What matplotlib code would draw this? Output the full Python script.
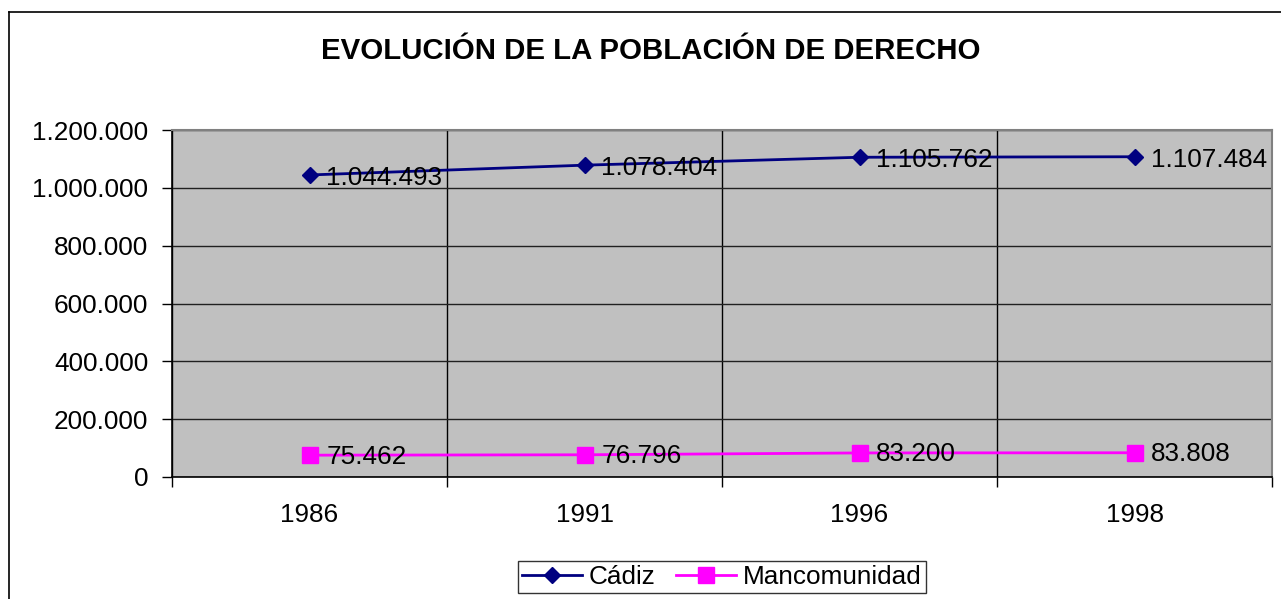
import matplotlib
matplotlib.use('Agg')
import matplotlib.pyplot as plt
from matplotlib.lines import Line2D
from matplotlib.ticker import FuncFormatter, FixedLocator

plt.rcParams['font.family'] = ['Liberation Sans', 'DejaVu Sans']

# data
years = ['1986', '1991', '1996', '1998']
cadiz = [1044493, 1078404, 1105762, 1107484]
mancomunidad = [75462, 76796, 83200, 83808]
y_ticks = [0, 200000, 400000, 600000, 800000, 1000000, 1200000]

FS = 18.8


def fmt_es(v, pos=None):
    return f'{int(v):,}'.replace(',', '.')


fig = plt.figure(figsize=(12.81, 5.99), dpi=100)
ax = fig.add_axes([172 / 1281, 1 - 477 / 599, 1100 / 1281, 347 / 599])
ax.set_facecolor('#c0c0c0')

x = list(range(len(years)))
ax.plot(x, cadiz, color='#000080', lw=2, marker='D', ms=8,
        mfc='#000080', mec='#000080', label='Cádiz', zorder=3)
ax.plot(x, mancomunidad, color='#ff00ff', lw=2, marker='s', ms=11,
        mfc='#ff00ff', mec='#ff00ff', label='Mancomunidad', zorder=3)

for xi, v in zip(x, cadiz):
    ax.annotate(fmt_es(v), (xi, v), xytext=(12, -2), textcoords='offset points',
                va='center', ha='left', fontsize=FS, color='black', zorder=4)
for xi, v in zip(x, mancomunidad):
    ax.annotate(fmt_es(v), (xi, v), xytext=(12, -1), textcoords='offset points',
                va='center', ha='left', fontsize=FS, color='black', zorder=4)

ax.set_xlim(-0.5, 3.5)
ax.set_ylim(0, 1200000)
ax.set_yticks(y_ticks)
ax.yaxis.set_major_formatter(FuncFormatter(fmt_es))
ax.set_xticks(x)
ax.set_xticklabels(years)
ax.xaxis.set_minor_locator(FixedLocator([-0.5, 0.5, 1.5, 2.5, 3.5]))
ax.tick_params(axis='x', which='major', length=0, pad=19, labelsize=FS)
ax.tick_params(axis='x', which='minor', length=7, width=1, color='black')
ax.tick_params(axis='y', length=7, width=1, color='black', pad=10, labelsize=FS)

ax.grid(axis='y', which='major', color='#202020', lw=1, zorder=1)
ax.grid(axis='x', which='minor', color='black', lw=1, zorder=1)
ax.set_axisbelow(True)

for side in ['left', 'bottom']:
    ax.spines[side].set_color('#000000')
    ax.spines[side].set_linewidth(1.2)
for side in ['top', 'right']:
    ax.spines[side].set_color('#808080')
    ax.spines[side].set_linewidth(1.5)

fig.text(651 / 1281, 1 - 51 / 599, 'EVOLUCIÓN DE LA POBLACIÓN DE DERECHO',
         ha='center', va='center', fontsize=21.2, fontweight='bold')

leg = fig.legend(loc='center', bbox_to_anchor=(722 / 1281, 1 - 577 / 599),
                 ncol=2, fontsize=FS, frameon=True, fancybox=False,
                 edgecolor='black', handlelength=2.3, handletextpad=0.25,
                 columnspacing=0.8, borderpad=0.15, borderaxespad=0)
leg.get_frame().set_linewidth(1)

# outer chart border (left and top edges visible)
fig.add_artist(Line2D([9 / 1281, 9 / 1281], [0, 1 - 12 / 599], color='black', lw=1.2,
                      transform=fig.transFigure))
fig.add_artist(Line2D([9 / 1281, 1], [1 - 12 / 599, 1 - 12 / 599], color='black', lw=1.2,
                      transform=fig.transFigure))

fig.savefig('out.png', dpi=100)
